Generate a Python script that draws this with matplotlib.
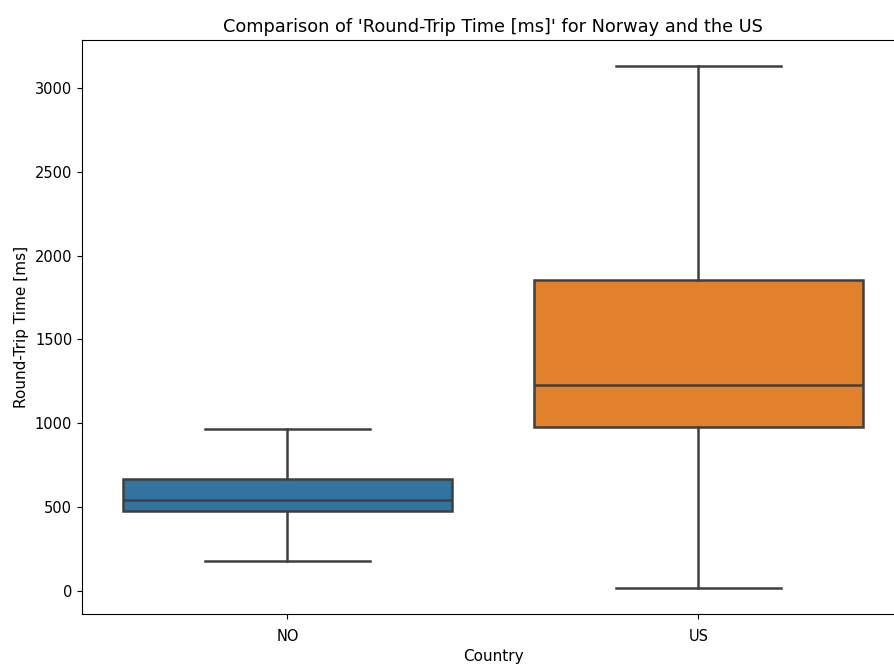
import matplotlib.pyplot as plt
import numpy as np

# Box statistics (ms)
countries = ["NO", "US"]
whisker_low = [179, 18]
q1 = [477, 978]
medians = [543, 1228]
q3 = [668, 1855]
whisker_high = [966, 3131]
colors = ["#3274a1", "#e1812c"]

stats = []
for i, c in enumerate(countries):
    stats.append({
        "label": c,
        "whislo": whisker_low[i],
        "q1": q1[i],
        "med": medians[i],
        "q3": q3[i],
        "whishi": whisker_high[i],
        "fliers": [],
    })

fig = plt.figure(figsize=(8.95, 6.66), dpi=100)
# axes runs past the right edge, the original screenshot is cropped there
ax = fig.add_axes([82 / 895, 52 / 666, 822 / 895, 574 / 666])

line = dict(color="#3f3f3f", linewidth=1.8)
bp = ax.bxp(stats, positions=np.arange(len(countries)), widths=0.8,
            patch_artist=True, showfliers=False,
            boxprops=dict(edgecolor="#3f3f3f", linewidth=1.8),
            whiskerprops=line, capprops=line, medianprops=line,
            capwidths=0.4)
for patch, col in zip(bp["boxes"], colors):
    patch.set_facecolor(col)

ax.set_xlim(-0.5, len(countries) - 0.5)
ax.set_xticks(np.arange(len(countries)))
ax.set_xticklabels(countries)
ax.set_yticks(np.arange(0, 3001, 500))
ax.tick_params(labelsize=10.5)
ax.tick_params(axis="x", pad=7)
ax.spines["right"].set_visible(False)
ax.set_xlabel("Country", fontsize=11, labelpad=4)
ax.set_ylabel("Round-Trip Time [ms]", fontsize=11)
ax.set_title("Comparison of 'Round-Trip Time [ms]' for Norway and the US", fontsize=12.8)

fig.savefig("out.png", dpi=100)
